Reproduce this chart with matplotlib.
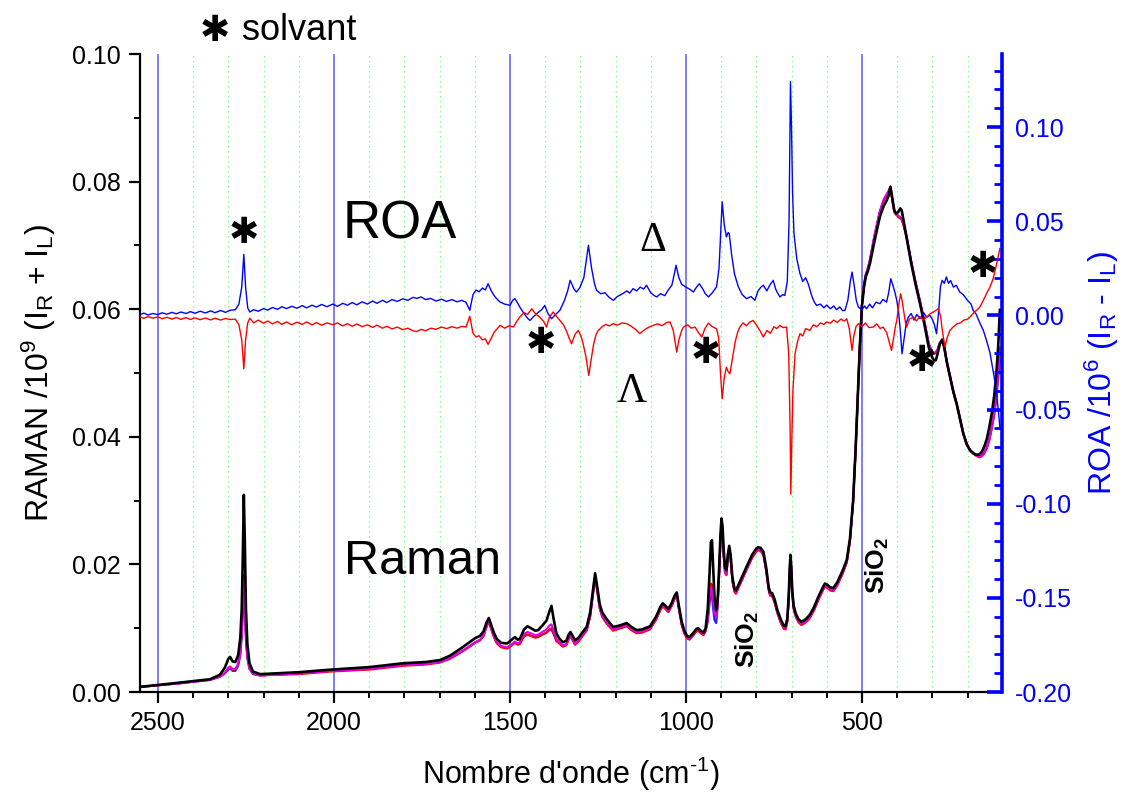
import numpy as np
import matplotlib
matplotlib.use('Agg')
import matplotlib.pyplot as plt
from matplotlib.ticker import MultipleLocator, FormatStrFormatter, FixedLocator

plt.rcParams['font.family'] = ['Liberation Sans', 'DejaVu Sans']
plt.rcParams['mathtext.fontset'] = 'custom'
plt.rcParams['mathtext.rm'] = 'Liberation Sans'
plt.rcParams['mathtext.it'] = 'Liberation Sans:italic'
plt.rcParams['mathtext.bf'] = 'Liberation Sans:bold'

# ---------------- Raman spectra (left axis) ----------------
raman_wn = [2551, 2450, 2352, 2324, 2310, 2300, 2295, 2288, 2280, 2272, 2266, 2262, 2259, 2256, 2253, 2250, 2246, 2240, 2230, 2210,
            2100, 2011, 1900, 1804, 1740, 1699, 1670, 1640, 1615, 1600, 1585, 1575, 1567, 1560, 1553, 1545, 1537, 1525, 1508, 1495, 1486, 1478,
            1472, 1460, 1450, 1440, 1428, 1420, 1408, 1396, 1388, 1382, 1376, 1368, 1360, 1350, 1340, 1333, 1328, 1322, 1315, 1305,
            1292, 1282, 1272, 1264, 1258, 1252, 1245, 1238, 1225, 1207,
            1190, 1168, 1155, 1140, 1125, 1102, 1085, 1072, 1066, 1058, 1050, 1040, 1033, 1026, 1020, 1012, 1005, 997, 990, 980,
            970, 965, 958, 950, 944, 938, 933, 929, 926, 923, 919, 914, 910, 906, 902, 899, 896, 893, 889, 885, 881, 877, 873, 868, 862, 858,
            845, 828, 812, 800, 795, 788, 780, 772, 765, 761, 755, 748, 740, 730, 722, 717, 712, 708, 705, 703,
            701, 698, 694, 688, 680, 672, 665, 658, 648, 636, 624, 612, 605, 598, 590, 581, 570,
            555, 543, 534, 525, 518, 512, 506, 500, 494, 489, 483, 477, 465, 449, 438, 430, 424, 419, 414, 408,
            403, 397, 391, 387, 382, 373, 360, 348, 335, 322,
            310, 300, 295, 290, 285, 279, 272, 266, 258, 248, 240, 231, 222, 212, 202, 193, 183, 175, 168, 160,
            152, 145, 138, 130, 124, 118, 113, 108]

raman_black = [0.0008, 0.0014, 0.0020, 0.0027, 0.0038, 0.0052, 0.0055, 0.0048, 0.0047, 0.0058, 0.0085, 0.0130, 0.0210, 0.0309, 0.0230, 0.0130, 0.0075, 0.0045, 0.0032, 0.0028,
               0.0031, 0.0035, 0.0039, 0.0045, 0.0047, 0.0050, 0.0057, 0.0068, 0.0078, 0.0084, 0.0088, 0.0095, 0.0108, 0.0116, 0.0105, 0.0092, 0.0083, 0.0077, 0.0076, 0.0082, 0.0086, 0.0082,
               0.0083, 0.0098, 0.0103, 0.0100, 0.0096, 0.0097, 0.0104, 0.0112, 0.0126, 0.0135, 0.0115, 0.0092, 0.0084, 0.0078, 0.0080, 0.0090, 0.0094, 0.0088, 0.0081, 0.0085,
               0.0095, 0.0102, 0.0125, 0.0160, 0.0186, 0.0165, 0.0138, 0.0125, 0.0114, 0.0102,
               0.0104, 0.0108, 0.0102, 0.0097, 0.0098, 0.0103, 0.0118, 0.0134, 0.0139, 0.0135, 0.0130, 0.0140, 0.0150, 0.0156, 0.0135, 0.0110, 0.0097, 0.0088, 0.0086, 0.0092,
               0.0099, 0.0100, 0.0096, 0.0093, 0.0100, 0.0130, 0.0185, 0.0235, 0.0238, 0.0200, 0.0150, 0.0128, 0.0145, 0.0190, 0.0245, 0.0272, 0.0260, 0.0225, 0.0195, 0.0191, 0.0215, 0.0229, 0.0215, 0.0180, 0.0162, 0.0159,
               0.0175, 0.0196, 0.0215, 0.0225, 0.0227, 0.0226, 0.0220, 0.0195, 0.0165, 0.0156, 0.0155, 0.0145, 0.0128, 0.0113, 0.0104, 0.0103, 0.0115, 0.0150, 0.0195, 0.0215,
               0.0200, 0.0160, 0.0135, 0.0123, 0.0114, 0.0110, 0.0112, 0.0115, 0.0121, 0.0133, 0.0149, 0.0163, 0.0170, 0.0168, 0.0164, 0.0163, 0.0172,
               0.0190, 0.0207, 0.0240, 0.0300, 0.0380, 0.0460, 0.0540, 0.0605, 0.0635, 0.0651, 0.0660, 0.0672, 0.0705, 0.0745, 0.0762, 0.0770, 0.0778, 0.0792, 0.0775, 0.0755,
               0.0750, 0.0752, 0.0758, 0.0755, 0.0740, 0.0712, 0.0672, 0.0640, 0.0609, 0.0575,
               0.0540, 0.0524, 0.0520, 0.0520, 0.0530, 0.0545, 0.0552, 0.0540, 0.0515, 0.0490, 0.0470, 0.0452, 0.0430, 0.0405, 0.0388, 0.0379, 0.0374, 0.0372, 0.0372, 0.0376,
               0.0385, 0.0397, 0.0415, 0.0440, 0.0465, 0.0500, 0.0540, 0.0599]

raman_red = [0.0008, 0.0013, 0.0019, 0.0024, 0.0030, 0.0037, 0.0039, 0.0035, 0.0035, 0.0044, 0.0064, 0.0095, 0.0140, 0.0183, 0.0145, 0.0090, 0.0058, 0.0038, 0.0029, 0.0026,
             0.0028, 0.0032, 0.0035, 0.0041, 0.0043, 0.0046, 0.0052, 0.0062, 0.0071, 0.0077, 0.0081, 0.0088, 0.0101, 0.0110, 0.0098, 0.0085, 0.0076, 0.0070, 0.0068, 0.0073, 0.0077, 0.0074,
             0.0075, 0.0087, 0.0090, 0.0088, 0.0085, 0.0086, 0.0090, 0.0093, 0.0098, 0.0100, 0.0092, 0.0080, 0.0076, 0.0071, 0.0073, 0.0083, 0.0087, 0.0081, 0.0074, 0.0079,
             0.0089, 0.0096, 0.0118, 0.0154, 0.0180, 0.0158, 0.0131, 0.0118, 0.0107, 0.0096,
             0.0099, 0.0103, 0.0097, 0.0092, 0.0093, 0.0098, 0.0113, 0.0129, 0.0134, 0.0130, 0.0125, 0.0135, 0.0145, 0.0151, 0.0130, 0.0105, 0.0092, 0.0084, 0.0082, 0.0088,
             0.0095, 0.0096, 0.0092, 0.0089, 0.0095, 0.0115, 0.0150, 0.0170, 0.0168, 0.0150, 0.0128, 0.0120, 0.0138, 0.0180, 0.0235, 0.0260, 0.0250, 0.0215, 0.0187, 0.0183, 0.0208, 0.0223, 0.0208, 0.0174, 0.0157, 0.0154,
             0.0170, 0.0191, 0.0210, 0.0220, 0.0222, 0.0221, 0.0215, 0.0190, 0.0160, 0.0151, 0.0150, 0.0140, 0.0123, 0.0108, 0.0099, 0.0098, 0.0110, 0.0144, 0.0188, 0.0208,
             0.0194, 0.0155, 0.0130, 0.0118, 0.0109, 0.0105, 0.0107, 0.0110, 0.0116, 0.0128, 0.0144, 0.0158, 0.0165, 0.0163, 0.0159, 0.0158, 0.0167,
             0.0185, 0.0203, 0.0236, 0.0297, 0.0378, 0.0459, 0.0540, 0.0606, 0.0637, 0.0653, 0.0663, 0.0676, 0.0712, 0.0752, 0.0770, 0.0778, 0.0784, 0.0790, 0.0772, 0.0752,
             0.0748, 0.0745, 0.0742, 0.0740, 0.0732, 0.0712, 0.0674, 0.0642, 0.0611, 0.0578,
             0.0545, 0.0532, 0.0530, 0.0532, 0.0536, 0.0546, 0.0552, 0.0540, 0.0515, 0.0490, 0.0470, 0.0452, 0.0430, 0.0405, 0.0388, 0.0379, 0.0373, 0.0370, 0.0368, 0.0369,
             0.0374, 0.0382, 0.0395, 0.0418, 0.0440, 0.0470, 0.0505, 0.0540]

raman_magenta = [0.0008, 0.0013, 0.0019, 0.0024, 0.0030, 0.0038, 0.0040, 0.0036, 0.0036, 0.0044, 0.0062, 0.0092, 0.0135, 0.0176, 0.0140, 0.0088, 0.0056, 0.0038, 0.0029, 0.0026,
                 0.0029, 0.0033, 0.0036, 0.0042, 0.0044, 0.0047, 0.0053, 0.0063, 0.0072, 0.0078, 0.0082, 0.0089, 0.0103, 0.0112, 0.0100, 0.0087, 0.0078, 0.0072, 0.0070, 0.0075, 0.0079, 0.0076,
                 0.0078, 0.0091, 0.0094, 0.0092, 0.0089, 0.0090, 0.0094, 0.0098, 0.0104, 0.0106, 0.0097, 0.0083, 0.0078, 0.0073, 0.0075, 0.0085, 0.0089, 0.0083, 0.0076, 0.0081,
                 0.0091, 0.0098, 0.0120, 0.0156, 0.0182, 0.0160, 0.0133, 0.0120, 0.0109, 0.0098,
                 0.0101, 0.0105, 0.0099, 0.0094, 0.0095, 0.0100, 0.0115, 0.0131, 0.0136, 0.0132, 0.0127, 0.0137, 0.0147, 0.0153, 0.0132, 0.0107, 0.0094, 0.0086, 0.0084, 0.0090,
                 0.0097, 0.0098, 0.0094, 0.0091, 0.0097, 0.0113, 0.0145, 0.0164, 0.0162, 0.0145, 0.0124, 0.0117, 0.0138, 0.0182, 0.0237, 0.0262, 0.0252, 0.0217, 0.0189, 0.0185, 0.0210, 0.0225, 0.0210, 0.0176, 0.0159, 0.0156,
                 0.0172, 0.0193, 0.0212, 0.0222, 0.0224, 0.0223, 0.0217, 0.0192, 0.0162, 0.0153, 0.0152, 0.0142, 0.0125, 0.0110, 0.0101, 0.0100, 0.0112, 0.0146, 0.0190, 0.0210,
                 0.0196, 0.0157, 0.0132, 0.0120, 0.0111, 0.0107, 0.0109, 0.0112, 0.0118, 0.0130, 0.0146, 0.0160, 0.0167, 0.0165, 0.0161, 0.0160, 0.0169,
                 0.0187, 0.0205, 0.0238, 0.0299, 0.0379, 0.0460, 0.0541, 0.0607, 0.0639, 0.0655, 0.0665, 0.0678, 0.0714, 0.0754, 0.0772, 0.0780, 0.0786, 0.0792, 0.0774, 0.0754,
                 0.0750, 0.0747, 0.0744, 0.0742, 0.0734, 0.0714, 0.0676, 0.0644, 0.0613, 0.0580,
                 0.0546, 0.0533, 0.0531, 0.0533, 0.0537, 0.0547, 0.0553, 0.0541, 0.0516, 0.0491, 0.0471, 0.0453, 0.0431, 0.0406, 0.0389, 0.0380, 0.0374, 0.0371, 0.0369, 0.0370,
                 0.0375, 0.0383, 0.0396, 0.0418, 0.0438, 0.0466, 0.0498, 0.0530]

raman_blue = [0.0008, 0.0013, 0.0019, 0.0024, 0.0029, 0.0035, 0.0037, 0.0033, 0.0033, 0.0041, 0.0058, 0.0085, 0.0122, 0.0155, 0.0125, 0.0080, 0.0052, 0.0036, 0.0028, 0.0026,
              0.0029, 0.0033, 0.0037, 0.0042, 0.0044, 0.0047, 0.0053, 0.0062, 0.0071, 0.0077, 0.0081, 0.0088, 0.0102, 0.0111, 0.0099, 0.0086, 0.0077, 0.0071, 0.0069, 0.0074, 0.0077, 0.0075,
              0.0076, 0.0088, 0.0090, 0.0088, 0.0086, 0.0087, 0.0090, 0.0093, 0.0097, 0.0098, 0.0091, 0.0080, 0.0077, 0.0072, 0.0074, 0.0084, 0.0088, 0.0082, 0.0075, 0.0080,
              0.0090, 0.0097, 0.0119, 0.0155, 0.0181, 0.0159, 0.0132, 0.0119, 0.0108, 0.0097,
              0.0100, 0.0104, 0.0098, 0.0093, 0.0094, 0.0099, 0.0114, 0.0130, 0.0135, 0.0131, 0.0126, 0.0136, 0.0146, 0.0152, 0.0131, 0.0106, 0.0093, 0.0085, 0.0083, 0.0089,
              0.0096, 0.0097, 0.0093, 0.0090, 0.0096, 0.0110, 0.0138, 0.0155, 0.0150, 0.0132, 0.0113, 0.0108, 0.0132, 0.0178, 0.0235, 0.0261, 0.0250, 0.0216, 0.0188, 0.0184, 0.0209, 0.0224, 0.0209, 0.0175, 0.0158, 0.0155,
              0.0171, 0.0192, 0.0211, 0.0221, 0.0223, 0.0222, 0.0216, 0.0191, 0.0161, 0.0152, 0.0151, 0.0141, 0.0124, 0.0109, 0.0100, 0.0099, 0.0111, 0.0145, 0.0189, 0.0209,
              0.0195, 0.0156, 0.0131, 0.0119, 0.0110, 0.0106, 0.0108, 0.0111, 0.0117, 0.0129, 0.0145, 0.0159, 0.0166, 0.0164, 0.0160, 0.0159, 0.0168,
              0.0186, 0.0204, 0.0237, 0.0298, 0.0378, 0.0459, 0.0540, 0.0606, 0.0638, 0.0654, 0.0664, 0.0677, 0.0713, 0.0753, 0.0771, 0.0779, 0.0785, 0.0791, 0.0773, 0.0753,
              0.0749, 0.0746, 0.0743, 0.0741, 0.0733, 0.0713, 0.0675, 0.0643, 0.0612, 0.0579,
              0.0545, 0.0532, 0.0530, 0.0532, 0.0536, 0.0546, 0.0552, 0.0540, 0.0515, 0.0490, 0.0470, 0.0452, 0.0430, 0.0405, 0.0388, 0.0379, 0.0374, 0.0371, 0.0370, 0.0371,
              0.0376, 0.0384, 0.0396, 0.0416, 0.0435, 0.0460, 0.0490, 0.0520]

# ---------------- ROA spectra (right axis): (wavenumber, value) ----------------
roa_delta_pts = [
    (2551, 0.0005), (2540, 0.0012), (2528, 0.0002), (2515, 0.0010), (2500, 0.0004), (2488, 0.0014), (2475, 0.0006),
    (2460, 0.0016), (2448, 0.0008), (2435, 0.0018), (2420, 0.0010), (2408, 0.0020), (2395, 0.0011), (2380, 0.0022),
    (2365, 0.0013), (2350, 0.0024), (2338, 0.0014), (2322, 0.0026), (2308, 0.0016), (2295, 0.0027), (2280, 0.0030),
    (2270, 0.0060), (2262, 0.0150), (2256, 0.0324), (2251, 0.0150), (2245, 0.0040), (2239, 0.0018), (2228, 0.0030),
    (2215, 0.0022), (2200, 0.0036), (2188, 0.0028), (2175, 0.0042), (2160, 0.0032), (2148, 0.0046), (2135, 0.0036),
    (2120, 0.0048), (2105, 0.0038), (2090, 0.0052), (2078, 0.0040), (2062, 0.0054), (2050, 0.0044), (2035, 0.0058),
    (2020, 0.0046), (2003, 0.0060), (1990, 0.0048), (1975, 0.0064), (1962, 0.0054), (1948, 0.0068), (1935, 0.0056),
    (1920, 0.0072), (1905, 0.0060), (1890, 0.0076), (1878, 0.0064), (1862, 0.0080), (1850, 0.0068), (1835, 0.0084),
    (1820, 0.0074), (1805, 0.0088), (1790, 0.0080), (1775, 0.0096), (1765, 0.0090), (1752, 0.0098), (1740, 0.0084),
    (1725, 0.0090), (1710, 0.0076), (1695, 0.0086), (1680, 0.0074), (1665, 0.0084), (1650, 0.0072), (1637, 0.0080),
    (1625, 0.0070), (1614, 0.0027), (1605, 0.0110), (1596, 0.0135), (1588, 0.0125), (1578, 0.0145), (1570, 0.0135),
    (1562, 0.0168), (1553, 0.0130), (1545, 0.0105), (1536, 0.0085), (1528, 0.0071), (1515, 0.0060), (1500, 0.0053),
    (1492, 0.0080), (1486, 0.0089), (1478, 0.0065), (1472, 0.0044), (1460, 0.0010), (1450, -0.0015), (1443, -0.0027),
    (1432, -0.0005), (1420, 0.0015), (1410, 0.0030), (1401, 0.0053), (1392, 0.0010), (1382, -0.0018), (1370, 0.0005),
    (1358, 0.0027), (1345, 0.0080), (1336, 0.0130), (1329, 0.0186), (1318, 0.0140), (1311, 0.0124), (1302, 0.0145),
    (1290, 0.0200), (1277, 0.0372), (1268, 0.0250), (1260, 0.0170), (1254, 0.0133), (1242, 0.0115), (1230, 0.0120),
    (1218, 0.0095), (1206, 0.0080), (1195, 0.0100), (1180, 0.0115), (1168, 0.0130), (1160, 0.0118), (1150, 0.0142),
    (1140, 0.0130), (1130, 0.0150), (1120, 0.0140), (1112, 0.0160), (1100, 0.0120), (1090, 0.0105), (1083, 0.0098),
    (1072, 0.0115), (1060, 0.0105), (1050, 0.0135), (1040, 0.0160), (1033, 0.0220), (1028, 0.0266), (1020, 0.0200),
    (1012, 0.0165), (1000, 0.0150), (990, 0.0140), (979, 0.0124), (970, 0.0150), (962, 0.0168), (952, 0.0140),
    (945, 0.0115), (936, 0.0098), (925, 0.0120), (913, 0.0151), (906, 0.0250), (901, 0.0450), (897, 0.0603),
    (891, 0.0480), (885, 0.0417), (880, 0.0440), (877, 0.0434), (870, 0.0320), (862, 0.0220), (851, 0.0151),
    (840, 0.0110), (828, 0.0089), (815, 0.0100), (804, 0.0080), (795, 0.0130), (787, 0.0150), (780, 0.0160),
    (770, 0.0130), (762, 0.0160), (752, 0.0186), (745, 0.0140), (740, 0.0120), (733, 0.0098), (725, 0.0110),
    (719, 0.0106), (712, 0.0180), (707, 0.0500), (703, 0.1241), (700, 0.1000), (697, 0.0650), (693, 0.0434),
    (685, 0.0300), (676, 0.0222), (668, 0.0180), (660, 0.0200), (652, 0.0165), (642, 0.0100), (635, 0.0070),
    (629, 0.0053), (618, 0.0060), (608, 0.0040), (600, 0.0055), (590, 0.0035), (580, 0.0050), (572, 0.0030),
    (563, 0.0045), (555, 0.0025), (548, 0.0027), (540, 0.0080), (533, 0.0180), (528, 0.0230), (522, 0.0160),
    (516, 0.0080), (510, 0.0044), (500, 0.0030), (492, 0.0050), (487, 0.0035), (478, 0.0060), (470, 0.0040),
    (460, 0.0070), (449, 0.0062), (440, 0.0085), (430, 0.0070), (424, 0.0120), (418, 0.0195), (412, 0.0160),
    (406, 0.0120), (401, 0.0080), (396, 0.0020), (391, -0.0080), (386, -0.0204), (380, -0.0120), (374, -0.0040),
    (368, -0.0009), (360, 0.0010), (352, -0.0025), (344, 0.0005), (335, -0.0018), (325, 0.0015), (316, -0.0010),
    (307, 0.0000), (300, -0.0020), (294, -0.0050), (288, -0.0097), (282, 0.0020), (277, 0.0150), (272, 0.0186),
    (266, 0.0170), (260, 0.0204), (254, 0.0170), (248, 0.0185), (240, 0.0150), (232, 0.0160), (222, 0.0124),
    (212, 0.0110), (200, 0.0080), (190, 0.0060), (184, 0.0027), (175, 0.0005), (165, -0.0040), (155, -0.0080),
    (146, -0.0133), (136, -0.0200), (125, -0.0320), (117, -0.0417), (108, -0.0594)]

roa_lambda_pts = [
    (2551, -0.0009), (2540, -0.0016), (2528, -0.0006), (2515, -0.0015), (2500, -0.0008), (2488, -0.0018), (2475, -0.0010),
    (2460, -0.0020), (2448, -0.0011), (2435, -0.0021), (2420, -0.0012), (2408, -0.0022), (2395, -0.0013), (2380, -0.0023),
    (2365, -0.0014), (2350, -0.0024), (2338, -0.0015), (2322, -0.0025), (2308, -0.0016), (2295, -0.0022), (2280, -0.0020),
    (2270, -0.0050), (2262, -0.0130), (2256, -0.0284), (2251, -0.0130), (2245, -0.0040), (2239, -0.0015), (2228, -0.0040),
    (2215, -0.0025), (2200, -0.0042), (2188, -0.0030), (2175, -0.0045), (2160, -0.0032), (2148, -0.0048), (2135, -0.0035),
    (2120, -0.0050), (2105, -0.0036), (2090, -0.0048), (2078, -0.0035), (2062, -0.0050), (2050, -0.0038), (2035, -0.0052),
    (2020, -0.0040), (2003, -0.0050), (1990, -0.0040), (1975, -0.0056), (1962, -0.0044), (1948, -0.0058), (1935, -0.0046),
    (1920, -0.0060), (1905, -0.0050), (1890, -0.0064), (1878, -0.0052), (1862, -0.0068), (1850, -0.0058), (1835, -0.0072),
    (1820, -0.0062), (1805, -0.0076), (1790, -0.0068), (1775, -0.0082), (1765, -0.0086), (1752, -0.0074), (1740, -0.0082),
    (1725, -0.0068), (1710, -0.0074), (1695, -0.0062), (1680, -0.0070), (1665, -0.0060), (1650, -0.0068), (1637, -0.0058),
    (1625, -0.0062), (1614, -0.0005), (1605, -0.0095), (1596, -0.0115), (1588, -0.0108), (1578, -0.0130), (1570, -0.0125),
    (1562, -0.0154), (1553, -0.0120), (1545, -0.0090), (1536, -0.0070), (1528, -0.0053), (1515, -0.0068), (1502, -0.0055),
    (1490, -0.0062), (1480, -0.0030), (1472, -0.0009), (1460, 0.0015), (1450, 0.0005), (1438, 0.0035), (1428, 0.0010),
    (1415, -0.0010), (1405, -0.0030), (1396, -0.0062), (1388, -0.0010), (1377, 0.0018), (1368, -0.0005), (1358, -0.0027),
    (1348, -0.0050), (1340, -0.0080), (1332, -0.0120), (1325, -0.0151), (1315, -0.0100), (1306, -0.0080), (1298, -0.0110),
    (1292, -0.0151), (1284, -0.0220), (1276, -0.0319), (1268, -0.0220), (1262, -0.0150), (1255, -0.0100), (1249, -0.0080),
    (1238, -0.0060), (1228, -0.0048), (1218, -0.0056), (1206, -0.0044), (1195, -0.0052), (1182, -0.0040), (1168, -0.0044),
    (1155, -0.0058), (1143, -0.0075), (1131, -0.0097), (1120, -0.0080), (1108, -0.0065), (1093, -0.0053), (1080, -0.0045),
    (1068, -0.0055), (1055, -0.0038), (1045, -0.0035), (1036, -0.0080), (1030, -0.0150), (1026, -0.0195), (1020, -0.0130),
    (1012, -0.0080), (1007, -0.0062), (995, -0.0050), (985, -0.0068), (974, -0.0062), (965, -0.0090), (955, -0.0115),
    (946, -0.0070), (936, -0.0041), (925, -0.0060), (913, -0.0071), (907, -0.0120), (902, -0.0300), (897, -0.0443),
    (891, -0.0330), (885, -0.0275), (880, -0.0300), (875, -0.0310), (868, -0.0230), (860, -0.0140), (853, -0.0090),
    (847, -0.0062), (838, -0.0040), (828, -0.0055), (818, -0.0035), (809, -0.0027), (800, -0.0050), (790, -0.0080),
    (780, -0.0115), (770, -0.0080), (760, -0.0095), (750, -0.0060), (742, -0.0070), (733, -0.0053), (724, -0.0065),
    (714, -0.0062), (708, -0.0200), (704, -0.0600), (702, -0.0949), (699, -0.0650), (696, -0.0400), (690, -0.0204),
    (683, -0.0140), (676, -0.0097), (668, -0.0110), (660, -0.0070), (648, -0.0080), (638, -0.0050), (628, -0.0060),
    (618, -0.0040), (608, -0.0048), (600, -0.0035), (590, -0.0042), (580, -0.0025), (570, -0.0038), (560, -0.0020),
    (550, -0.0030), (543, -0.0018), (536, -0.0070), (531, -0.0140), (528, -0.0186), (523, -0.0110), (517, -0.0060),
    (510, -0.0044), (500, -0.0060), (490, -0.0040), (480, -0.0065), (468, -0.0062), (458, -0.0045), (448, -0.0070),
    (440, -0.0062), (430, -0.0090), (424, -0.0130), (416, -0.0186), (410, -0.0120), (405, -0.0060), (401, -0.0027),
    (395, 0.0060), (390, 0.0115), (386, 0.0080), (382, 0.0030), (377, -0.0030), (373, -0.0062), (365, -0.0020),
    (354, -0.0009), (345, -0.0030), (336, -0.0005), (326, -0.0025), (316, -0.0009), (305, 0.0010), (295, 0.0020),
    (283, 0.0035), (277, 0.0000), (270, -0.0100), (264, -0.0168), (258, -0.0120), (250, -0.0080), (241, -0.0062),
    (230, -0.0045), (220, -0.0040), (210, -0.0025), (200, -0.0020), (193, -0.0009), (182, 0.0015), (172, 0.0030),
    (165, 0.0044), (155, 0.0080), (145, 0.0120), (136, 0.0151), (128, 0.0190), (120, 0.0250), (113, 0.0310),
    (108, 0.0355)]

x_major_ticks = [2500, 2000, 1500, 1000, 500]
left_ticks = [0.00, 0.02, 0.04, 0.06, 0.08, 0.10]
right_ticks = [-0.20, -0.15, -0.10, -0.05, 0.00, 0.05, 0.10]

# ---------------- figure ----------------
fig = plt.figure(figsize=(11.32, 7.94), dpi=100)
ax = fig.add_axes([140 / 1132, 1 - 692 / 794, 862 / 1132, 638 / 794])
ax2 = ax.twinx()

ax.set_xlim(2551, 102)
ax.xaxis.set_major_locator(FixedLocator(x_major_ticks))
ax.xaxis.set_minor_locator(MultipleLocator(100))
ax.grid(True, axis='x', which='major', color='#5a5aff', lw=1.1, ls='-')
ax.grid(True, axis='x', which='minor', color='#66ff66', lw=0.9, ls=(0, (1, 3)))
ax.set_axisbelow(True)

ax.plot(raman_wn, raman_blue, color='#2020ff', lw=1.5, zorder=3)
ax.plot(raman_wn, raman_red, color='#ff0000', lw=1.5, zorder=3)
ax.plot(raman_wn, raman_magenta, color='#e000e0', lw=1.5, zorder=3)
ax.plot(raman_wn, raman_black, color='black', lw=1.9, zorder=4)

d_wn, d_val = np.array(roa_delta_pts).T
l_wn, l_val = np.array(roa_lambda_pts).T
ax2.plot(d_wn, d_val, color='#0000ff', lw=1.0)
ax2.plot(l_wn, l_val, color='#ff0000', lw=1.0)

ax.set_ylim(0.0, 0.10)
ax2.set_ylim(-0.20, 0.1388)
ax.set_yticks(left_ticks)
ax.yaxis.set_minor_locator(MultipleLocator(0.01))
ax.yaxis.set_major_formatter(FormatStrFormatter('%.2f'))
ax2.set_yticks(right_ticks)
ax2.yaxis.set_minor_locator(MultipleLocator(0.01))
ax2.yaxis.set_major_formatter(FormatStrFormatter('%.2f'))

for s in ['top', 'right']:
    ax.spines[s].set_visible(False)
for s in ['top', 'left', 'bottom']:
    ax2.spines[s].set_visible(False)
ax.spines['left'].set_linewidth(1.6)
ax.spines['bottom'].set_linewidth(1.6)
ax2.spines['right'].set_color('#0000ff')
ax2.spines['right'].set_linewidth(2.6)

ax.tick_params(axis='both', which='major', direction='out', length=8, width=1.6,
               labelsize=18, pad=6)
ax.tick_params(axis='both', which='minor', direction='out', length=4.5, width=1.4)
ax2.tick_params(axis='y', which='major', direction='in', length=11, width=2.6,
                colors='#0000ff', labelsize=18, pad=9)
ax2.tick_params(axis='y', which='minor', direction='in', length=6, width=2.0, colors='#0000ff')

ax.set_xlabel(r"Nombre d'onde (cm$^{\text{-1}}$)", fontsize=22, labelpad=14)
ax.set_ylabel(r'RAMAN /10$^{9}$ (I$_\mathrm{R}$ + I$_\mathrm{L}$)', fontsize=23, labelpad=10)
ax2.set_ylabel(r'ROA /10$^{6}$ (I$_\mathrm{R}$ - I$_\mathrm{L}$)', fontsize=23, color='#0000ff',
               labelpad=8)

# annotations
ax.text(1812, 0.0732, 'ROA', fontsize=38, ha='center', va='center')
ax.text(1747, 0.0204, 'Raman', fontsize=35, ha='center', va='center')
ax.text(1094, 0.0708, '\u0394', fontsize=30, ha='center', va='center', family='Liberation Serif')
ax.text(1153, 0.0470, '\u039b', fontsize=30, ha='center', va='center', family='Liberation Serif')
ax.text(824, 0.0082, r'SiO$_\mathbf{2}$', fontsize=19, fontweight='bold', rotation=90,
        ha='center', va='center')
ax.text(457, 0.0199, r'SiO$_\mathbf{2}$', fontsize=19, fontweight='bold', rotation=90,
        ha='center', va='center')
for (aw, av) in [(2256, 0.0719), (1412, 0.0547), (943, 0.0531), (329, 0.0519), (156, 0.0666)]:
    ax.text(aw, av, '\u2731', fontsize=26, ha='center', va='center', family='DejaVu Sans')

fig.text(215 / 1132, 1 - 31 / 794, '\u2731', fontsize=26, ha='center', va='center', family='DejaVu Sans')
fig.text(242 / 1132, 1 - 31 / 794, 'solvant', fontsize=26, ha='left', va='center')

fig.savefig('out.png', dpi=100)
